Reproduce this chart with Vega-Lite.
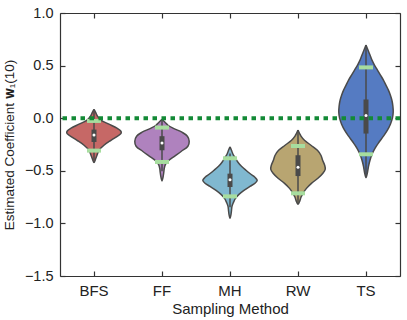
{
"$schema": "https://vega.github.io/schema/vega-lite/v6.json",
"width": 340,
"height": 263,
"autosize": {"type": "none"},
"padding": {"left": 60, "top": 13, "right": 7, "bottom": 44},
"background": "white",
"config": {
  "view": {"stroke": null},
  "font": "Liberation Sans",
  "axis": {"grid": false, "domainColor": "#333333", "domainWidth": 1.2, "tickColor": "#333333", "tickWidth": 1.2, "tickSize": -5, "labelColor": "#222222", "titleColor": "#222222", "labelFont": "Liberation Sans", "titleFont": "Liberation Sans", "titleFontWeight": "normal"}
},
"datasets": {
  "violin": [
    {"m":"BFS","v":0.083,"w":0},{"m":"BFS","v":0.057,"w":0.055},{"m":"BFS","v":0.019,"w":0.128},{"m":"BFS","v":-0.019,"w":0.256},{"m":"BFS","v":-0.057,"w":0.549},{"m":"BFS","v":-0.095,"w":0.842},{"m":"BFS","v":-0.124,"w":0.989},{"m":"BFS","v":-0.140,"w":1.0},{"m":"BFS","v":-0.162,"w":0.916},{"m":"BFS","v":-0.210,"w":0.623},{"m":"BFS","v":-0.257,"w":0.366},{"m":"BFS","v":-0.305,"w":0.183},{"m":"BFS","v":-0.352,"w":0.110},{"m":"BFS","v":-0.390,"w":0.055},{"m":"BFS","v":-0.422,"w":0},
    {"m":"BFS","v":-0.390,"w":-0.055},{"m":"BFS","v":-0.352,"w":-0.110},{"m":"BFS","v":-0.305,"w":-0.183},{"m":"BFS","v":-0.257,"w":-0.366},{"m":"BFS","v":-0.210,"w":-0.623},{"m":"BFS","v":-0.162,"w":-0.916},{"m":"BFS","v":-0.140,"w":-1.0},{"m":"BFS","v":-0.124,"w":-0.989},{"m":"BFS","v":-0.095,"w":-0.842},{"m":"BFS","v":-0.057,"w":-0.549},{"m":"BFS","v":-0.019,"w":-0.256},{"m":"BFS","v":0.019,"w":-0.128},{"m":"BFS","v":0.057,"w":-0.055},{"m":"BFS","v":0.083,"w":0},
    {"m":"FF","v":-0.010,"w":0},{"m":"FF","v":-0.038,"w":0.11},{"m":"FF","v":-0.067,"w":0.22},{"m":"FF","v":-0.095,"w":0.403},{"m":"FF","v":-0.133,"w":0.733},{"m":"FF","v":-0.171,"w":0.934},{"m":"FF","v":-0.219,"w":1.0},{"m":"FF","v":-0.267,"w":0.952},{"m":"FF","v":-0.314,"w":0.714},{"m":"FF","v":-0.362,"w":0.458},{"m":"FF","v":-0.400,"w":0.256},{"m":"FF","v":-0.438,"w":0.128},{"m":"FF","v":-0.476,"w":0.084},{"m":"FF","v":-0.514,"w":0.066},{"m":"FF","v":-0.552,"w":0.044},{"m":"FF","v":-0.595,"w":0},
    {"m":"FF","v":-0.552,"w":-0.044},{"m":"FF","v":-0.514,"w":-0.066},{"m":"FF","v":-0.476,"w":-0.084},{"m":"FF","v":-0.438,"w":-0.128},{"m":"FF","v":-0.400,"w":-0.256},{"m":"FF","v":-0.362,"w":-0.458},{"m":"FF","v":-0.314,"w":-0.714},{"m":"FF","v":-0.267,"w":-0.952},{"m":"FF","v":-0.219,"w":-1.0},{"m":"FF","v":-0.171,"w":-0.934},{"m":"FF","v":-0.133,"w":-0.733},{"m":"FF","v":-0.095,"w":-0.403},{"m":"FF","v":-0.067,"w":-0.22},{"m":"FF","v":-0.038,"w":-0.11},{"m":"FF","v":-0.010,"w":0},
    {"m":"MH","v":-0.273,"w":0},{"m":"MH","v":-0.305,"w":0.055},{"m":"MH","v":-0.343,"w":0.11},{"m":"MH","v":-0.381,"w":0.201},{"m":"MH","v":-0.419,"w":0.293},{"m":"MH","v":-0.457,"w":0.421},{"m":"MH","v":-0.495,"w":0.586},{"m":"MH","v":-0.533,"w":0.769},{"m":"MH","v":-0.562,"w":0.916},{"m":"MH","v":-0.590,"w":1.0},{"m":"MH","v":-0.619,"w":0.916},{"m":"MH","v":-0.648,"w":0.733},{"m":"MH","v":-0.686,"w":0.513},{"m":"MH","v":-0.724,"w":0.330},{"m":"MH","v":-0.762,"w":0.201},{"m":"MH","v":-0.800,"w":0.128},{"m":"MH","v":-0.838,"w":0.073},{"m":"MH","v":-0.876,"w":0.055},{"m":"MH","v":-0.914,"w":0.037},{"m":"MH","v":-0.950,"w":0},
    {"m":"MH","v":-0.914,"w":-0.037},{"m":"MH","v":-0.876,"w":-0.055},{"m":"MH","v":-0.838,"w":-0.073},{"m":"MH","v":-0.800,"w":-0.128},{"m":"MH","v":-0.762,"w":-0.201},{"m":"MH","v":-0.724,"w":-0.330},{"m":"MH","v":-0.686,"w":-0.513},{"m":"MH","v":-0.648,"w":-0.733},{"m":"MH","v":-0.619,"w":-0.916},{"m":"MH","v":-0.590,"w":-1.0},{"m":"MH","v":-0.562,"w":-0.916},{"m":"MH","v":-0.533,"w":-0.769},{"m":"MH","v":-0.495,"w":-0.586},{"m":"MH","v":-0.457,"w":-0.421},{"m":"MH","v":-0.419,"w":-0.293},{"m":"MH","v":-0.381,"w":-0.201},{"m":"MH","v":-0.343,"w":-0.11},{"m":"MH","v":-0.305,"w":-0.055},{"m":"MH","v":-0.273,"w":0},
    {"m":"RW","v":-0.114,"w":0},{"m":"RW","v":-0.143,"w":0.055},{"m":"RW","v":-0.171,"w":0.11},{"m":"RW","v":-0.210,"w":0.238},{"m":"RW","v":-0.257,"w":0.476},{"m":"RW","v":-0.305,"w":0.714},{"m":"RW","v":-0.352,"w":0.842},{"m":"RW","v":-0.400,"w":0.905},{"m":"RW","v":-0.448,"w":0.982},{"m":"RW","v":-0.486,"w":1.0},{"m":"RW","v":-0.524,"w":0.916},{"m":"RW","v":-0.571,"w":0.733},{"m":"RW","v":-0.619,"w":0.495},{"m":"RW","v":-0.667,"w":0.311},{"m":"RW","v":-0.714,"w":0.183},{"m":"RW","v":-0.752,"w":0.11},{"m":"RW","v":-0.781,"w":0.073},{"m":"RW","v":-0.819,"w":0},
    {"m":"RW","v":-0.781,"w":-0.073},{"m":"RW","v":-0.752,"w":-0.11},{"m":"RW","v":-0.714,"w":-0.183},{"m":"RW","v":-0.667,"w":-0.311},{"m":"RW","v":-0.619,"w":-0.495},{"m":"RW","v":-0.571,"w":-0.733},{"m":"RW","v":-0.524,"w":-0.916},{"m":"RW","v":-0.486,"w":-1.0},{"m":"RW","v":-0.448,"w":-0.982},{"m":"RW","v":-0.400,"w":-0.905},{"m":"RW","v":-0.352,"w":-0.842},{"m":"RW","v":-0.305,"w":-0.714},{"m":"RW","v":-0.257,"w":-0.476},{"m":"RW","v":-0.210,"w":-0.238},{"m":"RW","v":-0.171,"w":-0.11},{"m":"RW","v":-0.143,"w":-0.055},{"m":"RW","v":-0.114,"w":0},
    {"m":"TS","v":0.695,"w":0},{"m":"TS","v":0.648,"w":0.073},{"m":"TS","v":0.600,"w":0.147},{"m":"TS","v":0.552,"w":0.22},{"m":"TS","v":0.505,"w":0.311},{"m":"TS","v":0.457,"w":0.421},{"m":"TS","v":0.410,"w":0.531},{"m":"TS","v":0.362,"w":0.641},{"m":"TS","v":0.314,"w":0.733},{"m":"TS","v":0.267,"w":0.824},{"m":"TS","v":0.219,"w":0.897},{"m":"TS","v":0.171,"w":0.952},{"m":"TS","v":0.114,"w":0.989},{"m":"TS","v":0.057,"w":1.0},{"m":"TS","v":0.0,"w":0.971},{"m":"TS","v":-0.057,"w":0.897},{"m":"TS","v":-0.114,"w":0.788},{"m":"TS","v":-0.171,"w":0.641},{"m":"TS","v":-0.229,"w":0.476},{"m":"TS","v":-0.286,"w":0.330},{"m":"TS","v":-0.343,"w":0.220},{"m":"TS","v":-0.400,"w":0.147},{"m":"TS","v":-0.457,"w":0.092},{"m":"TS","v":-0.514,"w":0.055},{"m":"TS","v":-0.565,"w":0},
    {"m":"TS","v":-0.514,"w":-0.055},{"m":"TS","v":-0.457,"w":-0.092},{"m":"TS","v":-0.400,"w":-0.147},{"m":"TS","v":-0.343,"w":-0.220},{"m":"TS","v":-0.286,"w":-0.330},{"m":"TS","v":-0.229,"w":-0.476},{"m":"TS","v":-0.171,"w":-0.641},{"m":"TS","v":-0.114,"w":-0.788},{"m":"TS","v":-0.057,"w":-0.897},{"m":"TS","v":0.0,"w":-0.971},{"m":"TS","v":0.057,"w":-1.0},{"m":"TS","v":0.114,"w":-0.989},{"m":"TS","v":0.171,"w":-0.952},{"m":"TS","v":0.219,"w":-0.897},{"m":"TS","v":0.267,"w":-0.824},{"m":"TS","v":0.314,"w":-0.733},{"m":"TS","v":0.362,"w":-0.641},{"m":"TS","v":0.410,"w":-0.531},{"m":"TS","v":0.457,"w":-0.421},{"m":"TS","v":0.505,"w":-0.311},{"m":"TS","v":0.552,"w":-0.22},{"m":"TS","v":0.600,"w":-0.147},{"m":"TS","v":0.648,"w":-0.073},{"m":"TS","v":0.695,"w":0}
  ],
  "stats": [
    {"m":"BFS","lo":-0.402,"q1":-0.226,"med":-0.159,"q3":-0.108,"hi":0.067,"g1":-0.026,"g2":-0.308},
    {"m":"FF","lo":-0.505,"q1":-0.305,"med":-0.235,"q3":-0.171,"hi":-0.014,"g1":-0.089,"g2":-0.416},
    {"m":"MH","lo":-0.846,"q1":-0.654,"med":-0.584,"q3":-0.527,"hi":-0.335,"g1":-0.381,"g2":-0.743},
    {"m":"RW","lo":-0.819,"q1":-0.55,"med":-0.467,"q3":-0.352,"hi":-0.114,"g1":-0.264,"g2":-0.714},
    {"m":"TS","lo":-0.562,"q1":-0.146,"med":0.026,"q3":0.178,"hi":0.695,"g1":0.483,"g2":-0.343}
  ]
},
"layer": [
  {
    "data": {"name": "violin"},
    "mark": {"type": "line", "interpolate": "catmull-rom", "stroke": "#4a4a4a", "strokeWidth": 1.5},
    "encoding": {
      "x": {"field": "m", "type": "nominal", "scale": {"domain": ["BFS","FF","MH","RW","TS"], "paddingInner": 0, "paddingOuter": 0},
            "axis": {"orient": "bottom", "labelAngle": 0, "labelFontSize": 15, "labelPadding": 12, "title": "Sampling Method", "titleFontSize": 15, "titlePadding": 3}},
      "xOffset": {"field": "w", "type": "quantitative", "scale": {"domain": [-1, 1], "range": [6.8, 61.2]}},
      "y": {"field": "v", "type": "quantitative", "scale": {"domain": [-1.5, 1.0], "nice": false, "zero": false},
            "axis": {"orient": "left", "values": [-1.5,-1.0,-0.5,0,0.5,1.0], "format": ".1f", "labelFontSize": 14.5, "labelPadding": 12, "title": "Estimated Coefficient 𝐰₁(10)", "titleFontSize": 13.5, "titlePadding": 8}},
      "fill": {"field": "m", "type": "nominal", "scale": {"domain": ["BFS","FF","MH","RW","TS"], "range": ["#C66866","#AF82BE","#80B8D0","#B8A571","#557BC2"]}, "legend": null},
      "order": {"value": null}
    }
  },
  {
    "data": {"name": "stats"},
    "mark": {"type": "rule", "color": "#4a4a4a", "strokeWidth": 1.5},
    "encoding": {
      "x": {"field": "m", "type": "nominal", "axis": null},
      "y": {"field": "lo", "type": "quantitative", "axis": null},
      "y2": {"field": "hi"}
    }
  },
  {
    "data": {"name": "stats"},
    "mark": {"type": "rule", "color": "#4a4a4a", "strokeWidth": 5, "strokeCap": "butt"},
    "encoding": {
      "x": {"field": "m", "type": "nominal", "axis": null},
      "y": {"field": "q1", "type": "quantitative", "axis": null},
      "y2": {"field": "q3"}
    }
  },
  {
    "data": {"name": "stats"},
    "mark": {"type": "circle", "color": "white", "size": 9, "opacity": 1},
    "encoding": {
      "x": {"field": "m", "type": "nominal", "axis": null},
      "y": {"field": "med", "type": "quantitative", "axis": null}
    }
  },
  {
    "data": {"name": "stats"},
    "mark": {"type": "tick", "color": "#a7dd9f", "size": 14, "thickness": 4, "opacity": 1},
    "encoding": {
      "x": {"field": "m", "type": "nominal", "axis": {"orient": "top", "labels": false, "title": null}},
      "y": {"field": "g1", "type": "quantitative", "axis": {"orient": "right", "labels": false, "title": null, "values": [-1.5,-1.0,-0.5,0,0.5,1.0]}}
    }
  },
  {
    "data": {"name": "stats"},
    "mark": {"type": "tick", "color": "#a7dd9f", "size": 14, "thickness": 4, "opacity": 1},
    "encoding": {
      "x": {"field": "m", "type": "nominal", "axis": null},
      "y": {"field": "g2", "type": "quantitative", "axis": null}
    }
  },
  {
    "data": {"values": [{}]},
    "mark": {"type": "rule", "color": "#138a36", "strokeWidth": 4, "strokeDash": [4.5, 4.5]},
    "encoding": {
      "y": {"datum": 0, "axis": null}
    }
  }
],
"resolve": {"axis": {"x": "independent", "y": "independent"}}
}
